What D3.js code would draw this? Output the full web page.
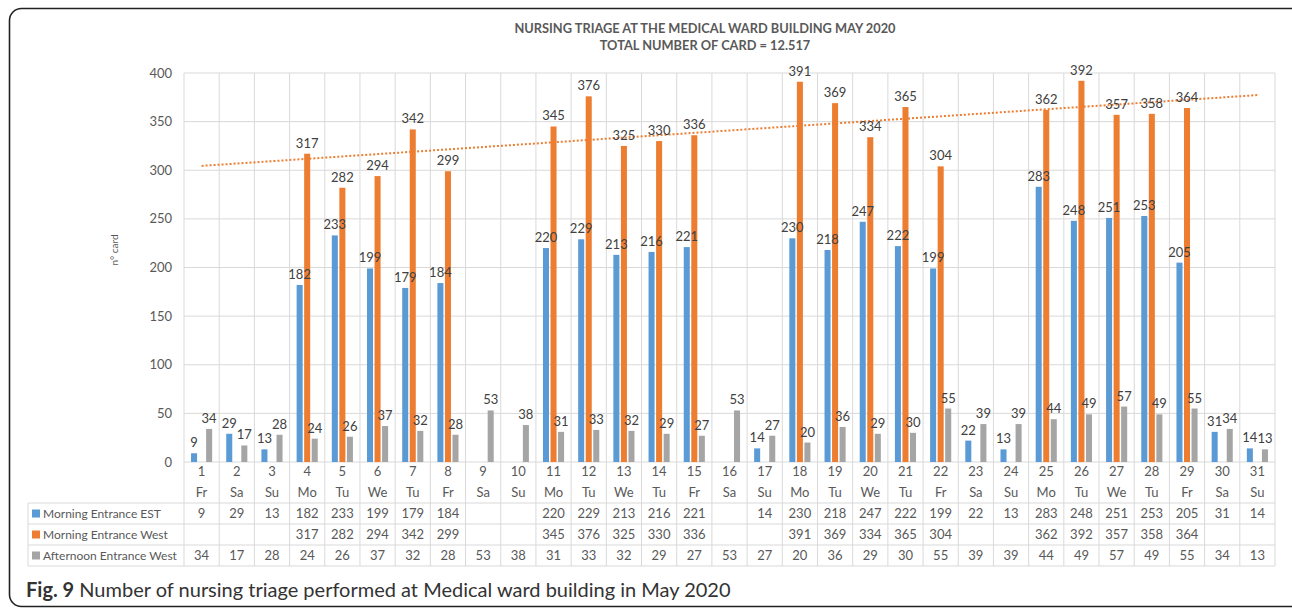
<!DOCTYPE html>
<html>
<head>
<meta charset="utf-8">
<script src="https://cdn.jsdelivr.net/npm/d3@7"></script>
<style>
  body { margin: 0; background: #fff; }
  text { font-family: Lato, "Open Sans", sans-serif; }
</style>
</head>
<body>
<div id="chart"></div>
<script>
// chart data
let days = ["1","2","3","4","5","6","7","8","9","10","11","12","13","14","15","16","17","18","19","20","21","22","23","24","25","26","27","28","29","30","31"];
let weekdays = ["Fr","Sa","Su","Mo","Tu","We","Tu","Fr","Sa","Su","Mo","Tu","We","Tu","Fr","Sa","Su","Mo","Tu","We","Tu","Fr","Sa","Su","Mo","Tu","We","Tu","Fr","Sa","Su"];
let seriesNames = ["Morning Entrance EST", "Morning Entrance West", "Afternoon Entrance West"];
let morningEst = [9,29,13,182,233,199,179,184,null,null,220,229,213,216,221,null,14,230,218,247,222,199,22,13,283,248,251,253,205,31,14];
let morningWest = [null,null,null,317,282,294,342,299,null,null,345,376,325,330,336,null,null,391,369,334,365,304,null,null,362,392,357,358,364,null,null];
let afternoonWest = [34,17,28,24,26,37,32,28,53,38,31,33,32,29,27,53,27,20,36,29,30,55,39,39,44,49,57,49,55,34,13];
let yTicks = [0,50,100,150,200,250,300,350,400];

let width = 1292, height = 611;
let margin = ({top: 73, left: 184, right: 17, bottom: 149});
let colors = ["#5B9BD5", "#ED7D31", "#A5A5A5"];
let textCol = "#595959";

let seriesData = [morningEst, morningWest, afternoonWest];

let svg = d3.select("#chart").append("svg")
    .attr("width", width)
    .attr("height", height);

// frame round the figure
svg.append("rect")
    .attr("x", 9.5).attr("y", 8.5)
    .attr("width", 1300).attr("height", 598)
    .attr("rx", 12)
    .attr("fill", "none")
    .attr("stroke", "#222")
    .attr("stroke-width", 1.6);

let x0 = d3.scaleBand()
    .domain(days)
    .range([margin.left, width - margin.right]);

let cw = x0.bandwidth();
let x1 = d3.scaleBand()
    .domain(seriesNames)
    .range([cw * 0.2, cw * 0.8])
    .paddingInner(0.2);

let y = d3.scaleLinear()
    .domain([0, 400])
    .range([height - margin.bottom, margin.top]);

let y0 = y(0);

// horizontal gridlines
svg.append("g").selectAll("line")
    .data(yTicks)
    .join("line")
    .attr("x1", margin.left).attr("x2", width - margin.right)
    .attr("y1", d => y(d)).attr("y2", d => y(d))
    .attr("stroke", "#d9d9d9");

// tick labels
svg.append("g").selectAll("text")
    .data(yTicks)
    .join("text")
    .attr("x", 172)
    .attr("y", d => y(d))
    .attr("dy", "0.35em")
    .attr("text-anchor", "end")
    .attr("font-size", 13)
    .attr("fill", textCol)
    .text(d => d);

// table geometry
let rowTop = 503, rowH = 21;
let tableBottom = rowTop + rowH * 3;

// vertical lines: plot + table
let bounds = days.map(d => x0(d)).concat([width - margin.right]);
svg.append("g").selectAll("line")
    .data(bounds)
    .join("line")
    .attr("x1", d => d).attr("x2", d => d)
    .attr("y1", margin.top).attr("y2", tableBottom)
    .attr("stroke", "#d9d9d9");

// table rows
svg.append("g").selectAll("line")
    .data([0,1,2,3])
    .join("line")
    .attr("x1", 28).attr("x2", width - margin.right)
    .attr("y1", d => rowTop + d * rowH).attr("y2", d => rowTop + d * rowH)
    .attr("stroke", "#d9d9d9");
svg.append("line")
    .attr("x1", 28).attr("x2", 28)
    .attr("y1", rowTop).attr("y2", tableBottom)
    .attr("stroke", "#d9d9d9");

// y axis title
svg.append("text")
    .attr("transform", "translate(118,250) rotate(-90)")
    .attr("text-anchor", "middle")
    .attr("font-size", 10)
    .attr("fill", textCol)
    .text("n° card");

// title
svg.append("text")
    .attr("x", 705).attr("y", 33)
    .attr("text-anchor", "middle")
    .attr("font-size", 12.8)
    .attr("font-weight", "bold")
    .attr("fill", textCol)
    .text("NURSING TRIAGE AT THE MEDICAL WARD BUILDING MAY 2020");
svg.append("text")
    .attr("x", 705).attr("y", 50)
    .attr("text-anchor", "middle")
    .attr("font-size", 12.8)
    .attr("font-weight", "bold")
    .attr("fill", textCol)
    .text("TOTAL NUMBER OF CARD = 12.517");

// bars first, labels on top afterwards
let barPts = seriesData.map(function(vals, si) {
    return vals.map((v, i) => ({day: days[i], v: v, s: si})).filter(d => d.v != null);
});

barPts.forEach(function(pts, si) {
    svg.append("g").selectAll("rect")
        .data(pts)
        .join("rect")
        .attr("x", d => x0(d.day) + x1(seriesNames[si]))
        .attr("y", d => y(d.v))
        .attr("width", x1.bandwidth())
        .attr("height", d => y0 - y(d.v))
        .attr("fill", colors[si]);
});

// linear trendline for Morning Entrance West (blanks skipped, like the spreadsheet)
let tp = morningWest.map((v, i) => [i + 1, v]).filter(d => d[1] != null);
let mx = d3.mean(tp, d => d[0]), my = d3.mean(tp, d => d[1]);
let slope = d3.sum(tp, d => (d[0] - mx) * (d[1] - my)) / d3.sum(tp, d => (d[0] - mx) * (d[0] - mx));
let icpt = my - slope * mx;
svg.append("line")
    .attr("x1", x0(days[0]) + cw / 2)
    .attr("x2", x0(days[days.length - 1]) + cw / 2)
    .attr("y1", y(icpt + slope * 1))
    .attr("y2", y(icpt + slope * days.length))
    .attr("stroke", colors[1])
    .attr("stroke-width", 2)
    .attr("stroke-dasharray", "2,2");

barPts.forEach(function(pts, si) {
    svg.append("g").selectAll("text")
        .data(pts)
        .join("text")
        .attr("x", d => x0(d.day) + x1(seriesNames[si]) + x1.bandwidth() / 2)
        .attr("y", d => y(d.v) - 6)
        .attr("text-anchor", "middle")
        .attr("font-size", 13)
        .attr("fill", "#404040")
        .text(d => d.v);
});

// table header: day number and weekday
svg.append("g").selectAll("text")
    .data(days)
    .join("text")
    .attr("x", d => x0(d) + cw / 2)
    .attr("y", 471)
    .attr("dy", "0.35em")
    .attr("text-anchor", "middle")
    .attr("font-size", 13)
    .attr("fill", textCol)
    .text(d => d);
svg.append("g").selectAll("text")
    .data(weekdays)
    .join("text")
    .attr("x", (d, i) => x0(days[i]) + cw / 2)
    .attr("y", 492)
    .attr("dy", "0.35em")
    .attr("text-anchor", "middle")
    .attr("font-size", 13)
    .attr("fill", textCol)
    .text(d => d);

// table body
seriesData.forEach(function(vals, si) {
    let cy = rowTop + si * rowH + rowH / 2;
    svg.append("rect")
        .attr("x", 32).attr("y", cy - 4)
        .attr("width", 8).attr("height", 8)
        .attr("fill", colors[si]);
    svg.append("text")
        .attr("x", 43).attr("y", cy)
        .attr("dy", "0.35em")
        .attr("font-size", 12)
        .attr("fill", textCol)
        .text(seriesNames[si]);
    svg.append("g").selectAll("text")
        .data(vals)
        .join("text")
        .attr("x", (d, i) => x0(days[i]) + cw / 2)
        .attr("y", cy)
        .attr("dy", "0.35em")
        .attr("text-anchor", "middle")
        .attr("font-size", 13)
        .attr("fill", textCol)
        .text(d => d == null ? "" : d);
});

// caption
let cap = svg.append("text")
    .attr("x", 26).attr("y", 597)
    .attr("font-size", 20)
    .attr("fill", "#333");
cap.append("tspan").attr("font-weight", "bold").text("Fig. 9");
cap.append("tspan").text(" Number of nursing triage performed at Medical ward building in May 2020");
</script>
</body>
</html>
